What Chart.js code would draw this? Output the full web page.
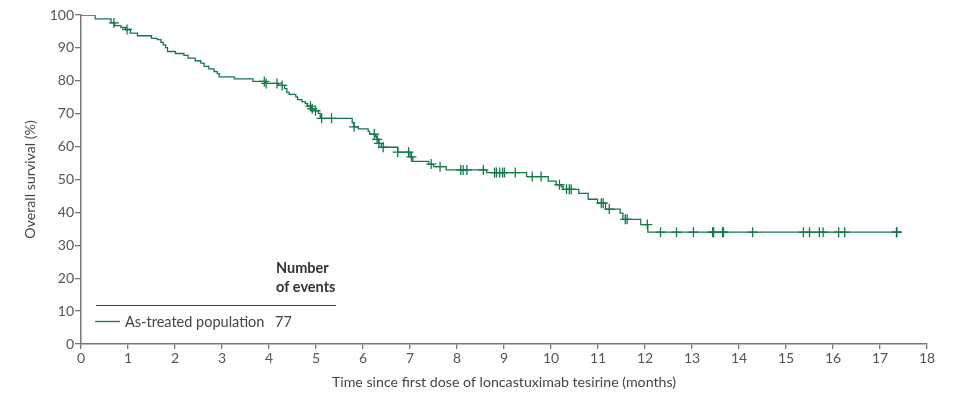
<!DOCTYPE html>
<html>
<head>
<meta charset="utf-8">
<script src="https://cdn.jsdelivr.net/npm/chart.js@4.4.0/dist/chart.umd.min.js"></script>
<style>
  html, body { margin: 0; padding: 0; background: #fff; }
</style>
</head>
<body>
<canvas id="km" width="954" height="397"></canvas>
<script>
// Kaplan-Meier steps: time (months) and survival (%) after the step
const stepTimes = [0, 0.30, 0.64, 0.72, 0.85, 0.95, 1.05, 1.20, 1.50, 1.62, 1.70, 1.75, 1.80, 1.84,
  2.01, 2.19, 2.28, 2.43, 2.55, 2.62, 2.72, 2.83, 2.90, 2.94, 3.26, 3.66, 3.92, 4.20, 4.33, 4.38,
  4.43, 4.57, 4.61, 4.70, 4.77, 4.82, 4.90, 4.99, 5.05, 5.09, 5.77, 5.81, 5.90, 6.11, 6.14, 6.27,
  6.30, 6.33, 6.39, 6.74, 7.00, 7.06, 7.40, 7.50, 7.77, 8.63, 9.48, 9.94, 10.11, 10.22, 10.26,
  10.59, 10.79, 10.99, 11.16, 11.47, 11.53, 11.91, 12.06]
const survival = [100, 98.8, 97.6, 96.8, 96.2, 95.6, 94.5, 93.7, 92.9, 92.5, 91.7, 90.9, 90.1, 88.9,
  88.3, 87.7, 86.9, 86.1, 85.4, 84.4, 83.6, 82.8, 82.2, 81.2, 80.6, 79.8, 79.2, 78.6, 77.6, 76.5,
  75.9, 75.1, 74.3, 73.7, 73.1, 72.3, 71.5, 70.9, 70.1, 68.6, 67.2, 66.0, 65.4, 64.6, 63.8, 63.0,
  62.2, 61.0, 59.8, 58.3, 56.9, 55.5, 54.7, 53.9, 52.9, 52.1, 50.9, 49.5, 48.4, 47.8, 47.0,
  45.8, 44.0, 42.8, 41.0, 39.8, 37.9, 36.3, 34.0]
const lastFollowUp = 17.46

// censored patients (months)
const censorTimes = [0.70, 0.98, 3.90, 3.94, 4.17, 4.28, 4.88, 4.92, 4.99, 5.12, 5.33, 5.81, 6.24,
  6.30, 6.34, 6.43, 6.74, 6.97, 7.03, 7.45, 7.64, 8.08, 8.13, 8.21, 8.56, 8.80, 8.84, 8.91, 8.97,
  9.01, 9.24, 9.60, 9.79, 10.18, 10.33, 10.39, 10.43, 11.07, 11.11, 11.24, 11.58, 11.62, 12.05,
  12.33, 12.67, 13.03, 13.44, 13.46, 13.65, 13.67, 14.29, 15.37, 15.50, 15.71, 15.79, 16.12,
  16.25, 17.35, 17.36]

const groupName = 'As-treated population'
const groupEvents = '77'
const lineColour = '#137a47'
const fontFamily = 'Lato, "Open Sans", sans-serif'

function survivalAt(t) {
  let s = survival[0]
  for (let i = 0; i < stepTimes.length; i++) {
    if (stepTimes[i] <= t) s = survival[i]
  }
  return s
}

let curve = stepTimes.map((t, i) => ({ x: t, y: survival[i] }))
curve.push({ x: lastFollowUp, y: survival[survival.length - 1] })
let censored = censorTimes.map(t => ({ x: t, y: survivalAt(t) }))

// legend block under the curve
const legendBlock = {
  id: 'legendBlock',
  afterDraw(chart) {
    const ctx = chart.ctx
    ctx.save()
    ctx.fillStyle = '#333'
    ctx.font = 'bold 14.5px ' + fontFamily
    ctx.textBaseline = 'middle'
    ctx.textAlign = 'left'
    ctx.fillText('Number', 276, 268)
    ctx.fillText('of events', 276, 287)
    ctx.strokeStyle = '#444'
    ctx.lineWidth = 1
    ctx.beginPath()
    ctx.moveTo(96, 305.5)
    ctx.lineTo(336, 305.5)
    ctx.stroke()
    ctx.strokeStyle = lineColour
    ctx.lineWidth = 1.3
    ctx.beginPath()
    ctx.moveTo(95, 321.5)
    ctx.lineTo(120, 321.5)
    ctx.stroke()
    ctx.font = '14.5px ' + fontFamily
    ctx.fillStyle = '#444'
    ctx.fillText(groupName, 125, 322)
    ctx.fillText(groupEvents, 275, 322)
    ctx.restore()
  }
}

new Chart(document.getElementById('km'), {
  type: 'scatter',
  data: {
    datasets: [
      {
        data: curve,
        showLine: true,
        stepped: 'before',
        borderColor: lineColour,
        borderWidth: 1.3,
        pointRadius: 0,
        fill: false
      },
      {
        data: censored,
        showLine: false,
        pointStyle: 'cross',
        pointRadius: 5,
        borderColor: lineColour,
        borderWidth: 1.3,
        backgroundColor: lineColour
      }
    ]
  },
  options: {
    responsive: false,
    animation: false,
    devicePixelRatio: 1,
    layout: { padding: { top: 15, right: 27, bottom: 0, left: 0 } },
    plugins: { legend: { display: false }, tooltip: { enabled: false } },
    scales: {
      x: {
        type: 'linear',
        min: 0,
        max: 18,
        afterFit: (s) => { s.height = 53 },
        ticks: { stepSize: 1, color: '#555', padding: 1, font: { family: fontFamily, size: 14 } },
        grid: { drawOnChartArea: false, drawTicks: true, tickLength: 5, color: '#777', lineWidth: 1.3 },
        border: { color: '#777', width: 1.5 },
        title: { display: true, text: 'Time since first dose of loncastuximab tesirine (months)', color: '#444',
          font: { family: fontFamily, size: 14.2 }, padding: { top: 0, bottom: 6 } }
      },
      y: {
        min: 0,
        max: 100,
        afterFit: (s) => { s.width = 81 },
        ticks: { stepSize: 10, color: '#555', padding: 1, font: { family: fontFamily, size: 14 } },
        grid: { drawOnChartArea: false, drawTicks: true, tickLength: 6, color: '#777', lineWidth: 1.3 },
        border: { color: '#777', width: 1.5 },
        title: { display: true, text: 'Overall survival (%)', color: '#444',
          font: { family: fontFamily, size: 14.2 }, padding: { top: 22, bottom: 0 } }
      }
    }
  },
  plugins: [legendBlock]
})
</script>
</body>
</html>
